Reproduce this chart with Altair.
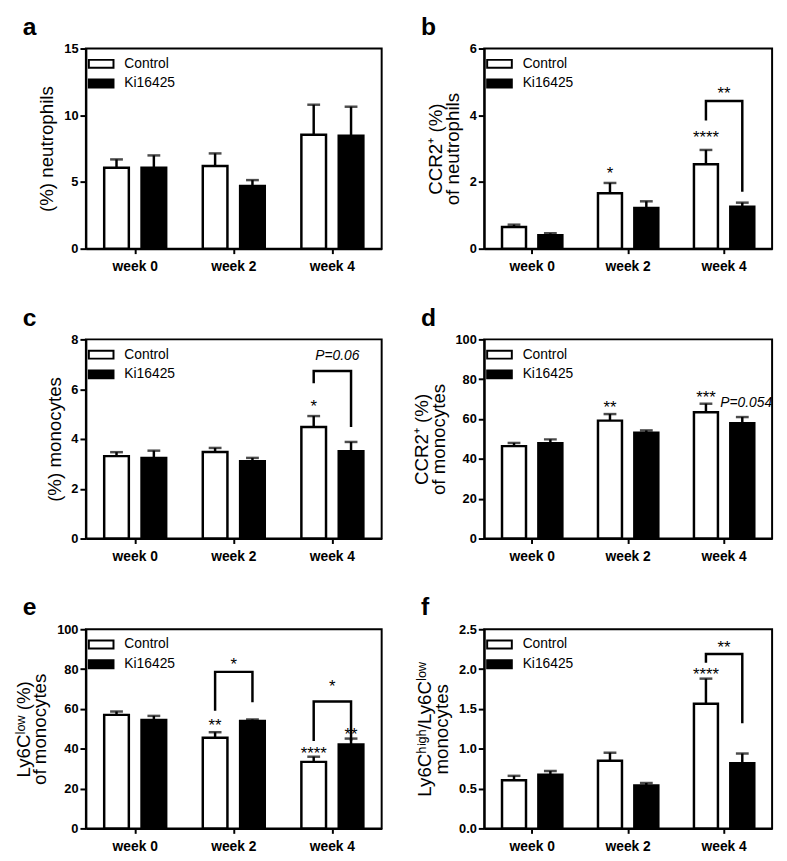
import altair as alt
import pandas as pd

FONT = "Liberation Sans"

weeks = ["week 0", "week 2", "week 4"]
groups = ["Control", "Ki16425"]

# panel a: (%) neutrophils
a_ctrl = [6.07, 6.20, 8.54]
a_ctrl_sem = [0.62, 0.94, 2.25]
a_ki = [6.07, 4.69, 8.47]
a_ki_sem = [0.92, 0.45, 2.17]

# panel b: CCR2+ (%) of neutrophils
b_ctrl = [0.65, 1.66, 2.53]
b_ctrl_sem = [0.07, 0.31, 0.43]
b_ki = [0.40, 1.22, 1.26]
b_ki_sem = [0.06, 0.20, 0.12]

# panel c: (%) monocytes
c_ctrl = [3.31, 3.48, 4.48]
c_ctrl_sem = [0.16, 0.16, 0.44]
c_ki = [3.24, 3.11, 3.51]
c_ki_sem = [0.29, 0.13, 0.37]

# panel d: CCR2+ (%) of monocytes
d_ctrl = [46.4, 59.2, 63.4]
d_ctrl_sem = [1.6, 3.3, 4.3]
d_ki = [47.9, 53.1, 57.9]
d_ki_sem = [1.9, 1.2, 3.1]

# panel e: Ly6Clow (%) of monocytes
e_ctrl = [57.0, 45.5, 33.4]
e_ctrl_sem = [1.7, 2.8, 2.6]
e_ki = [54.5, 53.9, 42.1]
e_ki_sem = [2.0, 0.8, 3.0]

# panel f: Ly6Chigh/Ly6Clow monocytes
f_ctrl = [0.605, 0.85, 1.565]
f_ctrl_sem = [0.055, 0.10, 0.315]
f_ki = [0.674, 0.54, 0.817]
f_ki_sem = [0.046, 0.03, 0.123]

# star annotations: (week, group or None for bracket centre, y, text)
b_stars = [("week 2", "Control", 2.37, "*"), ("week 4", "Control", 3.45, "****"),
           ("week 4", None, 4.79, "**")]
c_stars = [("week 4", "Control", 5.48, "*")]
d_stars = [("week 2", "Control", 67.8, "**"), ("week 4", "Control", 73.1, "***")]
e_stars = [("week 2", "Control", 53.8, "**"), ("week 4", "Control", 39.8, "****"),
           ("week 4", "Ki16425", 49.2, "**"), ("week 2", None, 84.7, "*"),
           ("week 4", None, 73.6, "*")]
f_stars = [("week 4", "Control", 1.99, "****"), ("week 4", None, 2.32, "**")]

# brackets: (week, left leg bottom, top, right leg bottom)
b_brackets = [("week 4", 3.84, 4.43, 1.71)]
c_brackets = [("week 4", 6.24, 6.73, 4.48)]
e_brackets = [("week 2", 59.1, 78.6, 63.4), ("week 4", 43.9, 63.7, 43.9)]
f_brackets = [("week 4", 2.08, 2.19, 1.32)]

# italic p-value notes: (week, group or None, y, text)
c_notes = [("week 4", None, 7.34, "P=0.06")]
d_notes = [("week 4", "Ki16425", 67.8, "P=0.054")]

LEGEND_PATH = "M-1.5,-0.48H1.5V0.48H-1.5Z"


def panel(letter, ctrl, ctrl_sem, ki, ki_sem, ymax, yvals, fmt, ytitle,
          width, height, stars=(), brackets=(), notes=()):
    rows = []
    for i, w in enumerate(weeks):
        rows.append({"week": w, "group": "Control", "mean": ctrl[i], "upper": ctrl[i] + ctrl_sem[i]})
        rows.append({"week": w, "group": "Ki16425", "mean": ki[i], "upper": ki[i] + ki_sem[i]})
    df = pd.DataFrame(rows)

    xscale = alt.Scale(domain=weeks, paddingInner=0, paddingOuter=0)
    xaxis = alt.Axis(title=None, labelAngle=0, labelFontSize=14, labelFontWeight="bold",
                     labelFont=FONT, labelColor="black", tickSize=5, tickWidth=2,
                     tickColor="black", domainColor="black", domainWidth=2,
                     labelPadding=6, grid=False)
    offscale = alt.Scale(domain=groups, paddingInner=0.34, paddingOuter=0.49)
    yscale = alt.Scale(domain=[0, ymax], nice=False, zero=True)
    yaxis = alt.Axis(title=ytitle, values=yvals, format=fmt, labelFontSize=13,
                     labelFontWeight="bold", labelFont=FONT, labelColor="black",
                     tickSize=6, tickWidth=2, tickColor="black", domainColor="black",
                     domainWidth=2, titleFont=FONT, titleFontSize=19,
                     titleFontWeight="normal", titleColor="black", titlePadding=7,
                     titleLineHeight=17, labelPadding=2, grid=False)

    def X():
        return alt.X("week:N", scale=xscale, axis=xaxis)

    def XO():
        return alt.XOffset("group:N", scale=offscale)

    def Y(field):
        return alt.Y(field, type="quantitative", scale=yscale, axis=yaxis)

    base = alt.Chart(df)
    bars = base.mark_bar(stroke="black", strokeWidth=2.5).encode(
        x=X(), xOffset=XO(), y=Y("mean"),
        fill=alt.Fill("group:N", scale=alt.Scale(domain=groups, range=["white", "black"]),
                      legend=alt.Legend(orient="top-left", title=None, symbolType=LEGEND_PATH,
                                        symbolSize=278, symbolStrokeColor="black",
                                        symbolStrokeWidth=2, labelFontSize=14, labelFont=FONT,
                                        labelColor="black", labelOffset=14, rowPadding=2,
                                        offset=6, padding=0)),
    )
    err = base.mark_rule(color="black", strokeWidth=2.5).encode(
        x=X(), xOffset=XO(), y=Y("mean"), y2="upper:Q")
    caps = base.mark_tick(color="black", thickness=2.5, size=13).encode(
        x=X(), xOffset=XO(), y=Y("upper"))
    layers = [bars, err, caps]

    if brackets:
        brows = []
        for k, (w, lb, top, rb) in enumerate(brackets):
            brows += [
                {"id": k, "o": 0, "week": w, "group": "Control", "y": lb},
                {"id": k, "o": 1, "week": w, "group": "Control", "y": top},
                {"id": k, "o": 2, "week": w, "group": "Ki16425", "y": top},
                {"id": k, "o": 3, "week": w, "group": "Ki16425", "y": rb},
            ]
        layers.append(alt.Chart(pd.DataFrame(brows)).mark_line(
            color="black", strokeWidth=2.5, strokeCap="butt", strokeJoin="miter").encode(
            x=X(), xOffset=XO(), y=Y("y"), detail="id:N", order="o:Q"))

    grouped = [s for s in stars if s[1] is not None]
    centred = [s for s in stars if s[1] is None]
    if grouped:
        sdf = pd.DataFrame([{"week": w, "group": g, "y": y, "t": t} for w, g, y, t in grouped])
        layers.append(alt.Chart(sdf).mark_text(
            fontSize=17, font=FONT, color="black", baseline="alphabetic", dy=10).encode(
            x=X(), xOffset=XO(), y=Y("y"), text="t:N"))
    if centred:
        sdf = pd.DataFrame([{"week": w, "y": y, "t": t} for w, g, y, t in centred])
        layers.append(alt.Chart(sdf).mark_text(
            fontSize=17, font=FONT, color="black", baseline="alphabetic", dy=10).encode(
            x=X(), y=Y("y"), text="t:N"))
    for w, g, y, t in notes:
        ndf = pd.DataFrame([{"week": w, "group": g, "y": y, "t": t}])
        if g is None:
            layers.append(alt.Chart(ndf).mark_text(
                fontSize=14, font=FONT, fontStyle="italic", color="black",
                baseline="middle", dx=5).encode(x=X(), y=Y("y"), text="t:N"))
        else:
            layers.append(alt.Chart(ndf).mark_text(
                fontSize=14, font=FONT, fontStyle="italic", color="black",
                baseline="middle", dx=4).encode(x=X(), xOffset=XO(), y=Y("y"), text="t:N"))

    return alt.layer(*layers).properties(
        width=width, height=height,
        title=alt.TitleParams(letter, anchor="start", frame="group", dx=-64,
                              fontSize=25, fontWeight="bold", font=FONT,
                              color="black", offset=3),
    )


pa = panel("a", a_ctrl, a_ctrl_sem, a_ki, a_ki_sem, 15, [0, 5, 10, 15], "d",
           "(%) neutrophils", 300, 203)
pb = panel("b", b_ctrl, b_ctrl_sem, b_ki, b_ki_sem, 6, [0, 2, 4, 6], "d",
           ["CCR2\u207a (%)", "of neutrophils"], 292, 203, b_stars, b_brackets)
pc = panel("c", c_ctrl, c_ctrl_sem, c_ki, c_ki_sem, 8, [0, 2, 4, 6, 8], "d",
           "(%) monocytes", 300, 202, c_stars, c_brackets, c_notes)
pd_ = panel("d", d_ctrl, d_ctrl_sem, d_ki, d_ki_sem, 100, [0, 20, 40, 60, 80, 100], "d",
            ["CCR2\u207a (%)", "of monocytes"], 292, 202, d_stars, (), d_notes)
pe = panel("e", e_ctrl, e_ctrl_sem, e_ki, e_ki_sem, 100, [0, 20, 40, 60, 80, 100], "d",
           ["Ly6C\u02e1\u1d52\u02b7 (%)", "of monocytes"], 300, 202, e_stars, e_brackets)
pf = panel("f", f_ctrl, f_ctrl_sem, f_ki, f_ki_sem, 2.5, [0, 0.5, 1.0, 1.5, 2.0, 2.5], ".1f",
           ["Ly6C\u02b0\u2071\u1d4d\u02b0/Ly6C\u02e1\u1d52\u02b7", "monocytes"], 292, 202,
           f_stars, f_brackets)

chart = alt.concat(pa, pb, pc, pd_, pe, pf, columns=2,
                   spacing={"row": 92, "column": 104}, bounds="flush").resolve_scale(
    x="independent", y="independent", fill="independent", xOffset="independent"
).resolve_legend(fill="independent").configure_view(
    stroke="black", strokeWidth=2
).properties(
    background="white",
    padding={"left": 5, "top": 0, "right": 5, "bottom": 5},
)

chart.save("out.html", embed_options={"renderer": "svg", "actions": False})
